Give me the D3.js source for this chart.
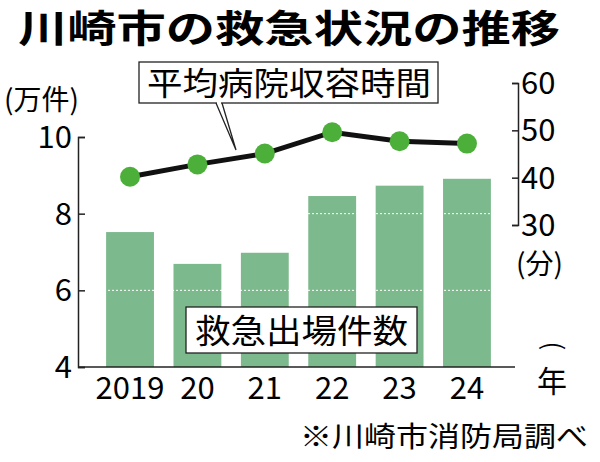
<!DOCTYPE html><html><head><meta charset="utf-8">
<script src="https://cdn.jsdelivr.net/npm/d3@7"></script>
<style>body{margin:0;background:#fff}text{font-family:"Noto Sans CJK JP","Noto Sans",sans-serif}</style></head><body>
<svg id="c" width="600" height="462"></svg>
<script>
const years=["2019","20","21","22","23","24"];
const calls=[7.52,6.69,6.98,8.46,8.73,8.91];
const minutes=[40.2,42.8,45.1,49.6,47.7,47.2];
const leftTicks=[4,6,8,10];
const rightTicks=[30,40,50,60];
const svg=d3.select("#c");
const x=d3.scaleBand().domain(years).range([96,501]).paddingInner(0.29).paddingOuter(0.15);
const y=d3.scaleLinear().domain([4,10]).range([367,137]);
const y2=d3.scaleLinear().domain([30,60]).range([225,83]);
const g="#7cb98c";
svg.append("text").attr("x",18).attr("y",42).attr("font-size",38).attr("font-weight","bold").attr("textLength",542).attr("lengthAdjust","spacingAndGlyphs").text("川崎市の救急状況の推移");
svg.selectAll(".b").data(calls).join("rect").attr("x",(d,i)=>x(years[i])).attr("width",x.bandwidth())
 .attr("y",d=>y(d)).attr("height",d=>y(4)-y(d)).attr("fill",g);
[6,8].forEach(v=>svg.append("line").attr("x1",80).attr("x2",512).attr("y1",y(v)).attr("y2",y(v)).attr("stroke","#fff").attr("stroke-width",1).attr("stroke-dasharray","2,2"));
const la=svg.append("g").attr("transform","translate(78,0)").call(d3.axisRight(y).tickValues(leftTicks).tickSize(7).tickFormat(""));
la.select(".domain").attr("stroke","#222").attr("stroke-width",1.5);la.selectAll("line").attr("stroke","#222").attr("stroke-width",1.5);
leftTicks.forEach(v=>svg.append("text").attr("x",72).attr("y",y(v)+11).attr("text-anchor","end").attr("font-size",31).text(v));
svg.append("line").attr("x1",78).attr("x2",515).attr("y1",367).attr("y2",367).attr("stroke","#222").attr("stroke-width",1.5);
const ra=svg.append("g").attr("transform","translate(518,0)").call(d3.axisLeft(y2).tickValues(rightTicks).tickSize(6).tickFormat(""));
ra.select(".domain").attr("stroke","#222").attr("stroke-width",1.5);ra.selectAll("line").attr("stroke","#222").attr("stroke-width",1.5);
rightTicks.forEach(v=>svg.append("text").attr("x",521).attr("y",y2(v)+11).attr("font-size",31).text(v));
svg.append("text").attr("x",516).attr("y",274).attr("font-size",28).text("(分)");
svg.append("text").attr("x",4).attr("y",110).attr("font-size",28).text("(万件)");
years.forEach(v=>svg.append("text").attr("x",x(v)+x.bandwidth()/2).attr("y",399).attr("text-anchor","middle").attr("font-size",31).text(v));
const yr=svg.append("g").attr("transform","translate(552,368)");
yr.append("text").attr("x",0).attr("y",-14).attr("text-anchor","middle").attr("font-size",26).attr("transform","rotate(90,0,-22)").text("(");
yr.append("text").attr("x",0).attr("y",24).attr("text-anchor","middle").attr("font-size",30).text("年");
const cx=i=>x(years[i])+x.bandwidth()/2;
svg.append("path").datum(minutes).attr("d",d3.line().x((d,i)=>cx(i)).y(d=>y2(d))).attr("fill","none").attr("stroke","#111").attr("stroke-width",5);
svg.selectAll(".p").data(minutes).join("circle").attr("cx",(d,i)=>cx(i)).attr("cy",d=>y2(d)).attr("r",10).attr("fill","#4caf3a");
svg.append("path").attr("d","M216,103 L236,150 L222,103").attr("fill","#fff").attr("stroke","#222").attr("stroke-width",1.3);
svg.append("rect").attr("x",139).attr("y",62).attr("width",299).attr("height",41).attr("fill","#fff").attr("stroke","#222").attr("stroke-width",1.3);
svg.append("line").attr("x1",217).attr("x2",221).attr("y1",103).attr("y2",103).attr("stroke","#fff").attr("stroke-width",2);
svg.append("text").attr("x",147).attr("y",95).attr("font-size",32).attr("textLength",284).attr("lengthAdjust","spacingAndGlyphs").text("平均病院収容時間");
svg.append("rect").attr("x",186).attr("y",307).attr("width",231).attr("height",46).attr("fill","#fff").attr("stroke","#222").attr("stroke-width",1.3);
svg.append("text").attr("x",195).attr("y",343).attr("font-size",33).attr("textLength",213).attr("lengthAdjust","spacingAndGlyphs").text("救急出場件数");
svg.append("text").attr("x",300).attr("y",447).attr("font-size",28).attr("textLength",288).attr("lengthAdjust","spacingAndGlyphs").text("※川崎市消防局調べ");
</script></body></html>
